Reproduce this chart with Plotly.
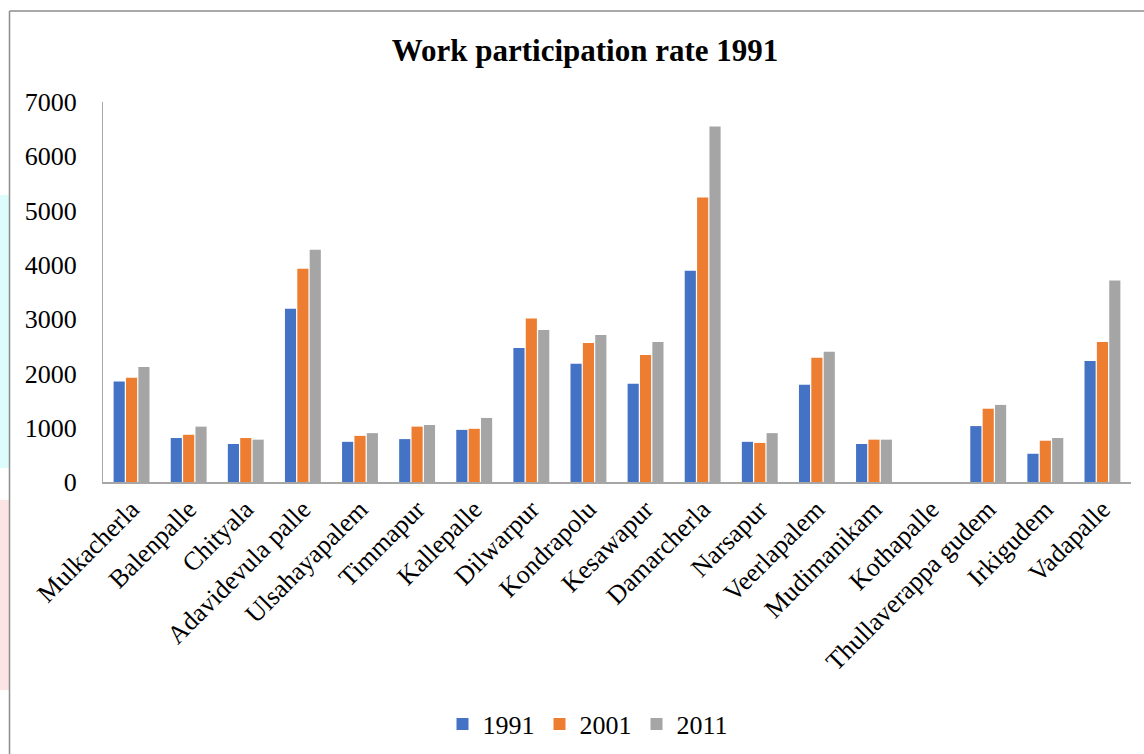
import plotly.graph_objects as go

# Villages on the x axis
villages = [
    "Mulkacherla", "Balenpalle", "Chityala", "Adavidevula palle", "Ulsahayapalem",
    "Timmapur", "Kallepalle", "Dilwarpur", "Kondrapolu", "Kesawapur",
    "Damarcherla", "Narsapur", "Veerlapalem", "Mudimanikam", "Kothapalle",
    "Thullaverappa gudem", "Irkigudem", "Vadapalle",
]

# Workers per census year
workers_1991 = [1850, 810, 700, 3190, 740, 790, 960, 2470, 2180, 1810,
                3890, 740, 1790, 700, 0, 1030, 520, 2230]
workers_2001 = [1920, 870, 810, 3930, 850, 1020, 980, 3010, 2560, 2340,
                5240, 720, 2290, 780, 0, 1350, 760, 2580]
workers_2011 = [2120, 1020, 780, 4280, 900, 1050, 1180, 2800, 2710, 2580,
                6550, 900, 2400, 780, 0, 1420, 810, 3710]

years = ["1991", "2001", "2011"]
series = [workers_1991, workers_2001, workers_2011]
colors = ["#4472C4", "#ED7D31", "#A5A5A5"]

W, H = 1144, 754
L, R, T, B = 103, 13, 102, 272
FONT = "Liberation Serif"

fig = go.Figure()
for name, vals, col in zip(years, series, colors):
    fig.add_trace(go.Bar(
        x=villages, y=vals, name=name,
        marker=dict(color=col, line=dict(width=0)),
    ))


def px_x(p):
    return (p - L) / (W - L - R)


def px_y(p):
    return (H - B - p) / (H - T - B)


shapes = [
    # coloured strips along the left edge of the page
    dict(type="rect", xref="paper", yref="paper", layer="below",
         x0=px_x(0), x1=px_x(9), y0=px_y(468), y1=px_y(195),
         fillcolor="#DDFDFD", line=dict(width=0)),
    dict(type="rect", xref="paper", yref="paper", layer="below",
         x0=px_x(0), x1=px_x(9), y0=px_y(690), y1=px_y(500),
         fillcolor="#FDE4E4", line=dict(width=0)),
    # chart frame (top and left edges)
    dict(type="line", xref="paper", yref="paper",
         x0=px_x(9.5), x1=px_x(1150), y0=px_y(11), y1=px_y(11),
         line=dict(color="#8C8C8C", width=1.5)),
    dict(type="line", xref="paper", yref="paper",
         x0=px_x(9.5), x1=px_x(9.5), y0=px_y(11), y1=px_y(760),
         line=dict(color="#8C8C8C", width=1.5)),
]

fig.update_layout(
    width=W, height=H,
    margin=dict(l=L, r=R, t=T, b=B, autoexpand=False),
    paper_bgcolor="white", plot_bgcolor="white",
    font=dict(family=FONT, size=26, color="black"),
    title=dict(text="<b>Work participation rate 1991</b>",
               font=dict(family=FONT, size=31, color="black"),
               x=585 / W, xref="container", xanchor="center",
               y=1 - 50 / H, yref="container", yanchor="middle"),
    barmode="group", bargap=0.35, bargroupgap=0.1,
    showlegend=True,
    legend=dict(orientation="h", xref="container", yref="container",
                x=588 / W, xanchor="center", y=1 - 724 / H, yanchor="middle",
                font=dict(family=FONT, size=26, color="black"),
                itemwidth=30, traceorder="normal"),
    shapes=shapes,
)

fig.update_xaxes(
    type="category", tickangle=-45, showgrid=False,
    showline=True, linecolor="#A6A6A6", linewidth=1.5,
    ticks="", tickfont=dict(family=FONT, size=26, color="black"),
)
fig.update_yaxes(
    range=[0, 7000], dtick=1000, showgrid=False, zeroline=False,
    showline=True, linecolor="#A6A6A6", linewidth=1,
    ticks="", ticklabelstandoff=20,
    tickfont=dict(family=FONT, size=26, color="black"),
)

fig.write_html("out.html")
